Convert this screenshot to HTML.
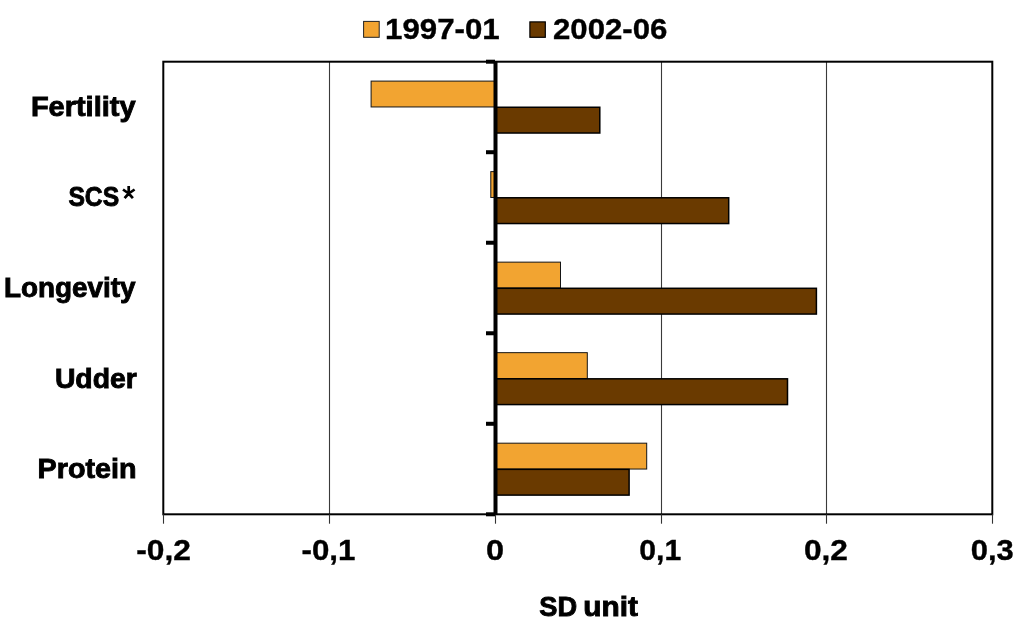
<!DOCTYPE html>
<html><head><meta charset="utf-8"><style>
html,body{margin:0;padding:0;background:#fff;}
body{width:1024px;height:628px;overflow:hidden;}
svg{display:block;will-change:transform;}
</style></head><body>
<svg width="1024" height="628" viewBox="0 0 1024 628">
<rect x="0" y="0" width="1024" height="628" fill="#fff"/>
<line x1="329.5" y1="61.70" x2="329.5" y2="514.30" stroke="#3a3a3a" stroke-width="1.1"/>
<line x1="661.5" y1="61.70" x2="661.5" y2="514.30" stroke="#3a3a3a" stroke-width="1.1"/>
<line x1="826.5" y1="61.70" x2="826.5" y2="514.30" stroke="#3a3a3a" stroke-width="1.1"/>
<rect x="163.30" y="61.70" width="829.00" height="452.60" fill="none" stroke="#000" stroke-width="2"/>
<line x1="163.5" y1="514.30" x2="163.5" y2="523.7" stroke="#333" stroke-width="1.1"/>
<line x1="329.5" y1="514.30" x2="329.5" y2="523.7" stroke="#333" stroke-width="1.1"/>
<line x1="495.5" y1="514.30" x2="495.5" y2="523.7" stroke="#333" stroke-width="1.1"/>
<line x1="661.5" y1="514.30" x2="661.5" y2="523.7" stroke="#333" stroke-width="1.1"/>
<line x1="826.5" y1="514.30" x2="826.5" y2="523.7" stroke="#333" stroke-width="1.1"/>
<line x1="992.5" y1="514.30" x2="992.5" y2="523.7" stroke="#333" stroke-width="1.1"/>
<rect x="371.10" y="81.10" width="124.40" height="25.86" fill="#F2A431" stroke="#151515" stroke-width="1"/>
<rect x="495.50" y="107.26" width="104.30" height="25.76" fill="#6A3A00" stroke="#000" stroke-width="1.5"/>
<rect x="490.80" y="171.62" width="4.70" height="25.86" fill="#F2A431" stroke="#151515" stroke-width="1"/>
<rect x="495.50" y="197.78" width="233.20" height="25.76" fill="#6A3A00" stroke="#000" stroke-width="1.5"/>
<rect x="495.50" y="262.14" width="65.00" height="25.86" fill="#F2A431" stroke="#151515" stroke-width="1"/>
<rect x="495.50" y="288.30" width="320.90" height="25.76" fill="#6A3A00" stroke="#000" stroke-width="1.5"/>
<rect x="495.50" y="352.66" width="91.80" height="25.86" fill="#F2A431" stroke="#151515" stroke-width="1"/>
<rect x="495.50" y="378.82" width="292.00" height="25.76" fill="#6A3A00" stroke="#000" stroke-width="1.5"/>
<rect x="495.50" y="443.18" width="151.20" height="25.86" fill="#F2A431" stroke="#151515" stroke-width="1"/>
<rect x="495.50" y="469.34" width="133.60" height="25.76" fill="#6A3A00" stroke="#000" stroke-width="1.5"/>
<rect x="493.5" y="61.20" width="4" height="453.60" fill="#000"/>
<rect x="486" y="59.70" width="9" height="4" fill="#000"/>
<rect x="486" y="150.22" width="9" height="4" fill="#000"/>
<rect x="486" y="240.74" width="9" height="4" fill="#000"/>
<rect x="486" y="331.26" width="9" height="4" fill="#000"/>
<rect x="486" y="421.78" width="9" height="4" fill="#000"/>
<rect x="486" y="512.30" width="9" height="4" fill="#000"/>
<rect x="363.6" y="21.4" width="15.6" height="15.9" fill="#F2A431" stroke="#222" stroke-width="1"/>
<rect x="529.9" y="21.9" width="15.4" height="15.4" fill="#6A3A00" stroke="#000" stroke-width="1.2"/>
<text x="30.90" y="116.10" font-family="Liberation Sans, sans-serif" font-weight="bold" stroke="#000" stroke-width="0.9" font-size="28" textLength="104.60" lengthAdjust="spacingAndGlyphs">Fertility</text>
<text x="68.40" y="206.30" font-family="Liberation Sans, sans-serif" font-weight="bold" stroke="#000" stroke-width="0.9" font-size="28" textLength="50.80" lengthAdjust="spacingAndGlyphs">SCS</text>
<text x="3.90" y="296.90" font-family="Liberation Sans, sans-serif" font-weight="bold" stroke="#000" stroke-width="0.9" font-size="28" textLength="131.60" lengthAdjust="spacingAndGlyphs">Longevity</text>
<text x="54.90" y="387.80" font-family="Liberation Sans, sans-serif" font-weight="bold" stroke="#000" stroke-width="0.9" font-size="28" textLength="81.90" lengthAdjust="spacingAndGlyphs">Udder</text>
<text x="37.60" y="478.20" font-family="Liberation Sans, sans-serif" font-weight="bold" stroke="#000" stroke-width="0.9" font-size="28" textLength="98.90" lengthAdjust="spacingAndGlyphs">Protein</text>
<text x="136.20" y="559.50" font-family="Liberation Sans, sans-serif" font-weight="bold" stroke="#000" stroke-width="0.35" font-size="29" textLength="54.70" lengthAdjust="spacingAndGlyphs">-0,2</text>
<text x="301.50" y="559.50" font-family="Liberation Sans, sans-serif" font-weight="bold" stroke="#000" stroke-width="0.35" font-size="29" textLength="53.90" lengthAdjust="spacingAndGlyphs">-0,1</text>
<text x="486.10" y="559.50" font-family="Liberation Sans, sans-serif" font-weight="bold" stroke="#000" stroke-width="0.35" font-size="29" textLength="18.10" lengthAdjust="spacingAndGlyphs">0</text>
<text x="639.20" y="559.50" font-family="Liberation Sans, sans-serif" font-weight="bold" stroke="#000" stroke-width="0.35" font-size="29" textLength="42.00" lengthAdjust="spacingAndGlyphs">0,1</text>
<text x="803.90" y="559.50" font-family="Liberation Sans, sans-serif" font-weight="bold" stroke="#000" stroke-width="0.35" font-size="29" textLength="44.00" lengthAdjust="spacingAndGlyphs">0,2</text>
<text x="970.70" y="559.50" font-family="Liberation Sans, sans-serif" font-weight="bold" stroke="#000" stroke-width="0.35" font-size="29" textLength="43.05" lengthAdjust="spacingAndGlyphs">0,3</text>
<text x="539.30" y="616.10" font-family="Liberation Sans, sans-serif" font-weight="bold" stroke="#000" stroke-width="0.9" font-size="28" textLength="37.80" lengthAdjust="spacingAndGlyphs">SD</text>
<text x="583.30" y="616.10" font-family="Liberation Sans, sans-serif" font-weight="bold" stroke="#000" stroke-width="0.9" font-size="28" textLength="54.60" lengthAdjust="spacingAndGlyphs">unit</text>
<text x="385.00" y="39.00" font-family="Liberation Sans, sans-serif" font-weight="bold" stroke="#000" stroke-width="0.35" font-size="29" textLength="114.75" lengthAdjust="spacingAndGlyphs">1997-01</text>
<text x="553.00" y="39.00" font-family="Liberation Sans, sans-serif" font-weight="bold" stroke="#000" stroke-width="0.35" font-size="29" textLength="114.40" lengthAdjust="spacingAndGlyphs">2002-06</text>
<path d="M128.7 186 V194 M123 189.5 L128.7 193.5 L134.6 189.5 M124.6 198.2 L128.7 193.5 L132.9 198.2" stroke="#000" stroke-width="2.7" fill="none" stroke-linejoin="round"/>
</svg>
</body></html>
